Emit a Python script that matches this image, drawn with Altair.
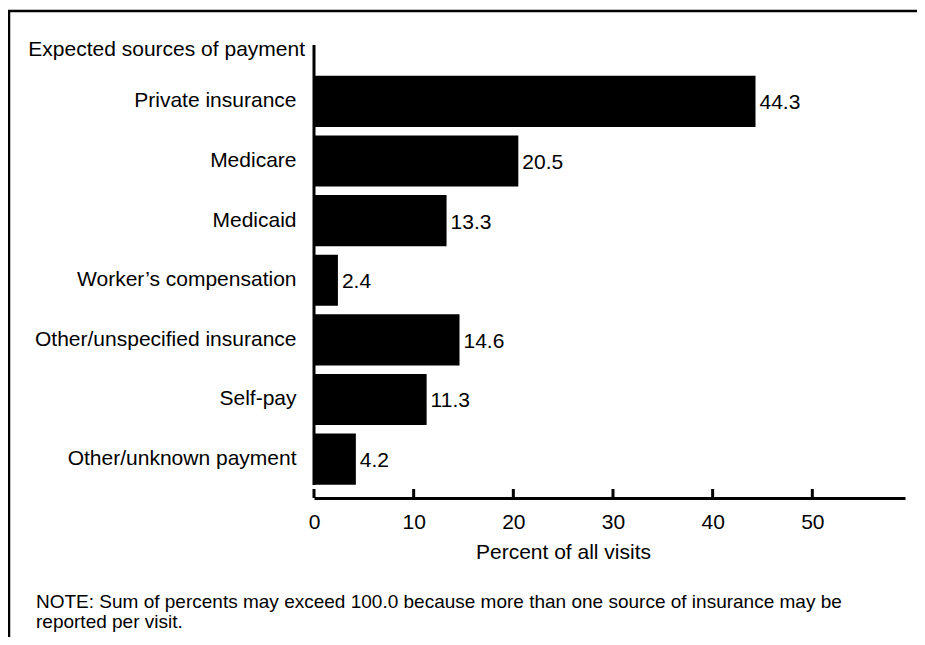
import altair as alt
import pandas as pd

categories = [
    "Private insurance",
    "Medicare",
    "Medicaid",
    "Worker\u2019s compensation\u00a0",
    "Other/unspecified insurance",
    "Self-pay",
    "Other/unknown payment",
]
values = [44.3, 20.5, 13.3, 2.4, 14.6, 11.3, 4.2]
x_ticks = [0, 10, 20, 30, 40, 50]
header = "Expected sources of payment"
x_title = "Percent of all visits"
note = ("NOTE: Sum of percents may exceed 100.0 because more than one source of insurance may be\n"
        "reported per visit.")

FONT = "Liberation Sans"
FS = 21
W, H = 591, 453

df = pd.DataFrame({"cat": categories, "val": values})
df["lab"] = [f"{v:.1f}" for v in values]
ticks_df = pd.DataFrame({"t": x_ticks})
one = pd.DataFrame({"header": [header], "note": [note]})

xscale = alt.Scale(domain=[0, 59.3], nice=False, zero=True)
yscale = alt.Scale(domain=categories, range=[26.7, 443.8], paddingInner=0.144, paddingOuter=0.07)

bars = alt.Chart(df).mark_bar(color="black").encode(
    x=alt.X("val:Q", scale=xscale,
            axis=alt.Axis(values=x_ticks, title=x_title, domainColor="black", domainWidth=3,
                          tickSize=0, labelPadding=13, labelFontSize=FS, labelFont=FONT,
                          labelColor="black", titleFontSize=FS, titleFont=FONT,
                          titleFontWeight="normal", titleColor="black", titlePadding=9,
                          titleX=249, titleAlign="center", titleAnchor="start",
                          grid=False, labelFlush=False)),
    y=alt.Y("cat:N", scale=yscale, sort=categories,
            axis=alt.Axis(title=None, domain=False, ticks=False, labelPadding=18,
                          labelFontSize=FS, labelFont=FONT, labelColor="black",
                          labelLimit=400)),
)

labels = alt.Chart(df).mark_text(align="left", baseline="middle", dx=4, dy=2, fontSize=FS,
                                 font=FONT, color="black").encode(
    x=alt.X("val:Q", scale=xscale),
    y=alt.Y("cat:N", scale=yscale, sort=categories),
    text="lab:N",
)

yline = alt.Chart(one).mark_rule(color="black", strokeWidth=3).encode(
    x=alt.value(0), y=alt.value(0), y2=alt.value(440)
)

tick_rules = alt.Chart(ticks_df).mark_rule(color="black", strokeWidth=3).encode(
    x=alt.X("t:Q", scale=xscale), y=alt.value(444), y2=alt.value(453)
)

header_txt = alt.Chart(one).mark_text(align="right", baseline="middle", fontSize=FS,
                                      font=FONT, color="black").encode(
    x=alt.value(-9), y=alt.value(5), text="header:N"
)

note_txt = alt.Chart(one).mark_text(align="left", baseline="top", fontSize=19,
                                    font=FONT, color="black", lineBreak="\n",
                                    lineHeight=19.5).encode(
    x=alt.value(-278), y=alt.value(548), text="note:N"
)

frame_top = alt.Chart(one).mark_rule(color="black", strokeWidth=2.5).encode(
    x=alt.value(-306), x2=alt.value(603), y=alt.value(-34)
)
frame_left = alt.Chart(one).mark_rule(color="black", strokeWidth=2.5).encode(
    x=alt.value(-305), y=alt.value(-35), y2=alt.value(592)
)

chart = alt.layer(
    bars, labels, yline, tick_rules, header_txt, note_txt, frame_top, frame_left
).properties(
    width=W, height=H,
    background="white",
    autosize=alt.AutoSizeParams(type="none"),
    padding={"left": 306, "top": 37, "right": 12, "bottom": 139},
).configure_view(stroke=None, strokeWidth=0)

chart.save("out.html", embed_options={"renderer": "svg", "actions": False})
